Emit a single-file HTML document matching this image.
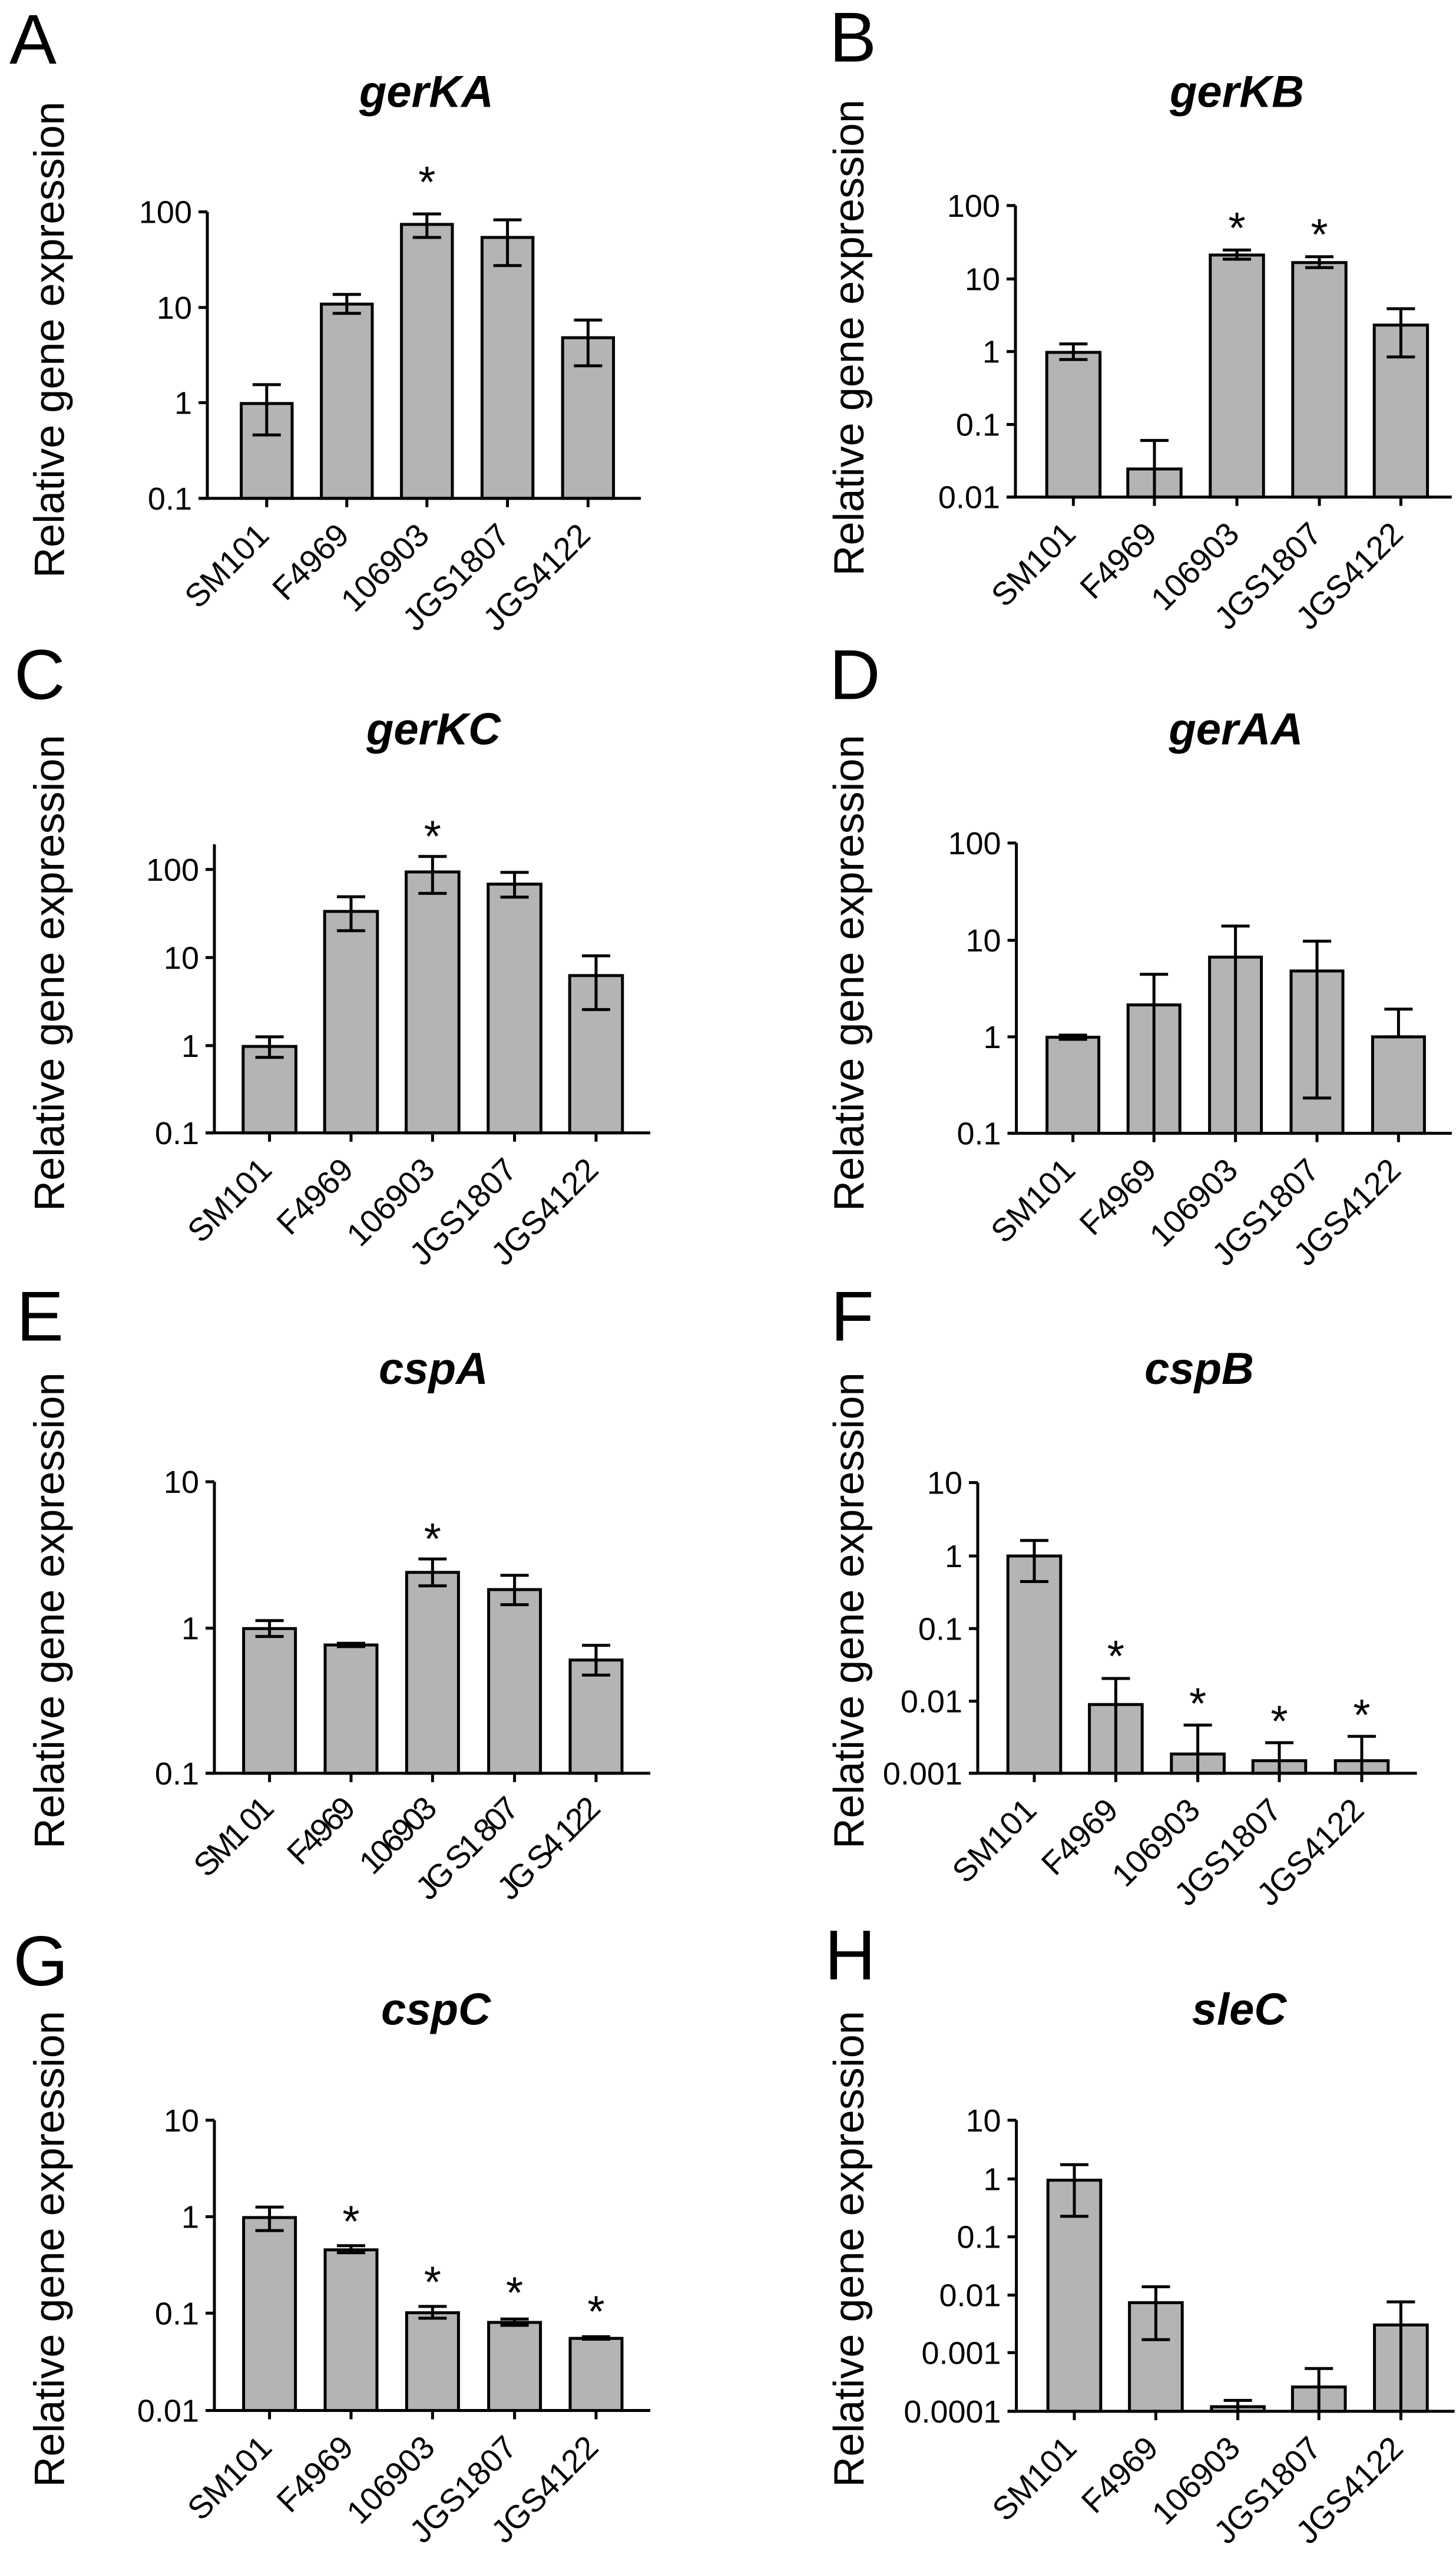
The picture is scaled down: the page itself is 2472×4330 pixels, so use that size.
<!DOCTYPE html>
<html><head><meta charset="utf-8"><style>
html,body{margin:0;padding:0;background:#fff;}
svg{display:block;}
text{font-family:"Liberation Sans",Arial,sans-serif;fill:#000;}
</style></head><body>
<svg id="s" width="2472" height="4330" viewBox="0 0 2472 4330" xmlns="http://www.w3.org/2000/svg"></svg>
<script>
var P=[
{ox:0,oy:0,L:'A',lx:20,ly:160,t:'gerKA',tx:905,ty:255,yx:103,yy:810,ax:440,ab:1188,at:505,ar:1360,
 ticks:[[505,'100'],[733,'10'],[960,'1'],[1188,'0.1']],c:[566,736,906,1077,1248],w:108,
 top:[962,725,535,566,805],err:[[917,1037],[702,747],[510,566],[524,633],[763,872]],st:[[906,410]]},
{ox:1236,oy:0,L:'B',lx:215,ly:155,t:'gerKB',tx:1080,ty:255,yx:255,yy:805,ax:610,ab:1185,at:490,ar:1536,
 ticks:[[490,'100'],[665,'10'],[838,'1'],[1012,'0.1'],[1185,'0.01']],c:[733,905,1080,1255,1428],w:113,
 top:[840,1118,608,626,775],err:[[820,857],[1050,null],[596,618],[612,638],[736,851]],st:[[1080,520],[1255,535]]},
{ox:0,oy:1050,L:'C',lx:30,ly:200,t:'gerKC',tx:920,ty:300,yx:103,yy:845,ax:455,ab:1226,at:538,ar:1380,
 ticks:[[598,'100'],[808,'10'],[1018,'1'],[1226,'0.1']],c:[572,745,918,1092,1265],w:112,
 top:[1020,698,604,633,851],err:[[997,1046],[663,744],[567,655],[605,664],[804,932]],st:[[918,495]]},
{ox:1236,oy:1050,L:'D',lx:215,ly:200,t:'gerAA',tx:1078,ty:300,yx:255,yy:845,ax:612,ab:1227,at:535,ar:1536,
 ticks:[[535,'100'],[767,'10'],[997,'1'],[1227,'0.1']],c:[732,904,1077,1250,1423],w:110,
 top:[998,921,807,840,997],err:[[993,1003],[848,null],[733,null],[769,1143],[931,997]],st:[]},
{ox:0,oy:2100,L:'E',lx:35,ly:255,t:'cspA',tx:920,ty:350,yx:103,yy:890,ax:455,ab:1278,at:583,ar:1380,
 ticks:[[583,'10'],[932,'1'],[1278,'0.1']],c:[572,745,918,1092,1265],w:110,
 top:[933,972,799,840,1008],err:[[914,952],[968,976],[767,831],[806,876],[973,1044]],st:[[918,695]],garble:1},
{ox:1236,oy:2100,L:'F',lx:218,ly:255,t:'cspB',tx:1000,ty:350,yx:255,yy:890,ax:530,ab:1278,at:585,ar:1462,
 ticks:[[585,'10'],[760,'1'],[933,'0.1'],[1106,'0.01'],[1278,'0.001']],c:[650,823,997,1170,1345],w:112,
 top:[760,1114,1232,1248,1248],err:[[723,821],[1052,null],[1163,null],[1205,null],[1190,null]],st:[[823,975],[997,1088],[1170,1130],[1345,1115]]},
{ox:0,oy:3230,L:'G',lx:28,ly:205,t:'cspC',tx:925,ty:290,yx:103,yy:825,ax:455,ab:1210,at:518,ar:1380,
 ticks:[[518,'10'],[748,'1'],[978,'0.1'],[1210,'0.01']],c:[572,745,918,1092,1265],w:110,
 top:[750,827,977,1000,1038],err:[[725,781],[817,834],[962,990],[992,1007],[1034,1040]],st:[[745,735],[918,880],[1092,905],[1265,950]]},
{ox:1236,oy:3230,L:'H',lx:205,ly:190,t:'sleC',tx:1085,ty:290,yx:255,yy:825,ax:612,ab:1212,at:518,ar:1542,
 ticks:[[518,'10'],[658,'1'],[796,'0.1'],[935,'0.01'],[1072,'0.001'],[1212,'0.0001']],c:[735,908,1082,1254,1428],w:112,
 top:[661,953,1201,1154,1006],err:[[624,747],[915,1041],[1186,null],[1110,null],[951,null]],st:[]}
];
var N=['SM101','F4969','106903','JGS1807','JGS4122'];
var NG=['SM1  01','F4969','106903','JG S1 807','JG S4 122'];
var h='',SX=0.8,SY=1/1.4045,sw=5;
function r(v){return Math.round(v*10)/10;}
P.forEach(function(p){
 function X(z){return r(p.ox+z*SX);} function Y(z){return r(p.oy+z*SY);}
 function ln(x1,y1,x2,y2){h+='<line x1="'+x1+'" y1="'+y1+'" x2="'+x2+'" y2="'+y2+'" stroke="#000" stroke-width="'+sw+'"/>';}
 h+='<text x="'+X(p.lx)+'" y="'+r(Y(p.ly)-6)+'" font-size="120">'+p.L+'</text>';
 h+='<text x="'+X(p.tx)+'" y="'+Y(p.ty)+'" font-size="76" font-weight="bold" font-style="italic" text-anchor="middle">'+p.t+'</text>';
 h+='<text transform="translate('+(X(p.yx)+26)+','+Y(p.yy)+') rotate(-90)" font-size="72" text-anchor="middle">Relative gene expression</text>';
 var ab=Y(p.ab),ax=X(p.ax);
 p.c.forEach(function(cx,i){
  var w=p.w*SX,t=Y(p.top[i]);
  h+='<rect x="'+r(X(cx)-w/2)+'" y="'+t+'" width="'+r(w)+'" height="'+r(ab-t)+'" fill="#b4b4b4" stroke="#000" stroke-width="'+sw+'"/>';
 });
 p.c.forEach(function(cx,i){
  var e=p.err[i],x=X(cx),u=Y(e[0]),lo=(e[1]===null?ab:Y(e[1]));
  ln(x,u,x,lo); ln(r(x-24),u,r(x+24),u);
  if(e[1]!==null) ln(r(x-24),lo,r(x+24),lo);
 });
 ln(ax,Y(p.at),ax,r(ab+2));
 ln(r(ax-15),ab,X(p.ar),ab);
 p.ticks.forEach(function(t){
  var y=Y(t[0]); ln(r(ax-15),y,ax,y);
  h+='<text x="'+r(ax-26)+'" y="'+r(y+19)+'" font-size="54" text-anchor="end">'+t[1]+'</text>';
 });
 p.c.forEach(function(cx,i){
  var x=X(cx); ln(x,ab,x,r(ab+15));
  var lbl=p.garble?NG[i]:N[i];
  h+='<text transform="translate('+r(x+7)+','+r(ab+66)+') rotate(-45)" font-size="55" text-anchor="end"'+(p.garble?' letter-spacing="-5"':'')+'>'+lbl+'</text>';
 });
 p.st.forEach(function(s){
  h+='<text x="'+X(s[0])+'" y="'+r(Y(s[1])+43)+'" font-size="75" text-anchor="middle">*</text>';
 });
});
document.getElementById('s').innerHTML=h;
</script>
</body></html>
